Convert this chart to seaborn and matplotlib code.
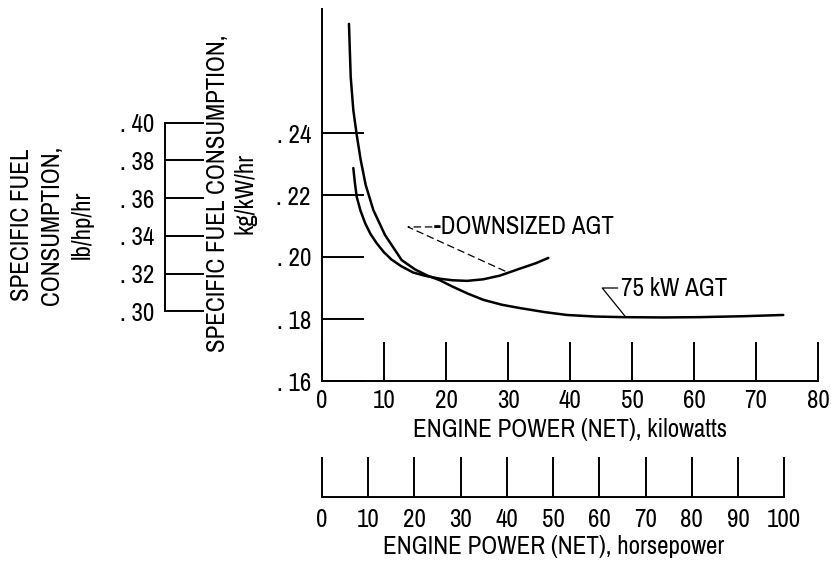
import numpy as np
import pandas as pd
import seaborn as sns
import matplotlib.pyplot as plt

# curve readings: engine power (kW) vs specific fuel consumption (kg/kW/hr)
kw_75 = [4.35, 4.63, 5.05, 5.6, 6.24, 7.05, 8.27, 10.16, 12.85, 15.0, 17.0, 19.0, 21.0,
         23.5, 26.0, 29.0, 32.0, 36.0, 39.5, 44.0, 48.5, 55.0, 61.0, 68.0, 74.4]
sfc_75 = [0.2752, 0.2581, 0.2474, 0.2394, 0.2313, 0.2232, 0.2152, 0.2071, 0.1990, 0.1960, 0.1940, 0.1925, 0.1905,
          0.1882, 0.1862, 0.1846, 0.1835, 0.1822, 0.1813, 0.1808, 0.1806, 0.1805, 0.1806, 0.1809, 0.1813]

kw_down = [5.05, 5.3, 5.6, 6.2, 6.94, 7.8, 8.8, 10.0, 11.2, 12.8, 14.7, 16.5, 19.0, 21.0,
           23.4, 26.0, 28.7, 32.0, 34.5, 36.5]
sfc_down = [0.2287, 0.2240, 0.2194, 0.2150, 0.2110, 0.2075, 0.2045, 0.2015, 0.1992, 0.1970, 0.1950, 0.1940, 0.1930, 0.1925,
            0.1923, 0.1928, 0.1940, 0.1963, 0.1980, 0.1997]

kw_ticks = list(range(0, 81, 10))
hp_ticks = list(range(0, 101, 10))
sfc_ticks = [0.16, 0.18, 0.20, 0.22, 0.24]
lb_ticks = [0.30, 0.32, 0.34, 0.36, 0.38, 0.40]

KW_PER_HP = 0.7457
LBHP_PER_KGKW = 2.2046 * KW_PER_HP   # kg/kW/hr -> lb/hp/hr

sns.set_style('white')
plt.rcParams['font.family'] = ['Archivo Narrow', 'DejaVu Sans']
plt.rcParams['text.color'] = 'black'
plt.rcParams['xtick.color'] = 'black'
plt.rcParams['ytick.color'] = 'black'
plt.rcParams['axes.labelcolor'] = 'black'

FS = 18
LW = 1.4

df = pd.DataFrame({
    'kw': kw_75 + kw_down,
    'sfc': sfc_75 + sfc_down,
    'engine': ['75 kW AGT'] * len(kw_75) + ['DOWNSIZED AGT'] * len(kw_down),
})

W, H = 831, 564
fig = plt.figure(figsize=(W / 100, H / 100), dpi=100)

# main axes (kW / kg/kW/hr)
ax = fig.add_axes([322 / W, 1 - 381 / H, (818 - 322) / W, (381 - 9) / H])
sns.lineplot(data=df, x='kw', y='sfc', hue='engine', palette=['black', 'black'],
             estimator=None, legend=False, lw=1.8, ax=ax)
ax.set_xlim(0, 80)
ax.set_ylim(0.16, 0.28)
sns.despine(ax=ax)
for s in ['left', 'bottom']:
    ax.spines[s].set_linewidth(LW)
    ax.spines[s].set_color('black')
ax.set_xticks(kw_ticks)
ax.set_yticks(sfc_ticks)
ax.set_yticklabels(['. %02d' % round(v * 100) for v in sfc_ticks])
ax.tick_params(axis='x', bottom=True, direction='in', length=28, width=LW, pad=6, labelsize=FS)
ax.tick_params(axis='y', left=True, direction='in', length=30, width=LW, pad=8, labelsize=FS)
ax.set_xlabel('ENGINE POWER (NET), kilowatts', fontsize=FS, labelpad=4)
ylab = ax.set_ylabel('SPECIFIC FUEL CONSUMPTION,\nkg/kW/hr', fontsize=FS)
ylab.set_linespacing(1.2)
ax.yaxis.set_label_coords(256 / W, 1 - 193 / H, transform=fig.transFigure)

# curve labels with leader lines
ax.plot([17.8, 13.87, 29.8], [0.2097, 0.2097, 0.1952], color='black', lw=0.9, ls=(0, (6, 3)))
ax.text(18.0, 0.2097, '-DOWNSIZED AGT', fontsize=FS, va='center', ha='left')
ax.plot([47.7, 45.2, 49.0], [0.190, 0.190, 0.1806], color='black', lw=0.9)
ax.text(48.2, 0.190, '75 kW AGT', fontsize=FS, va='center', ha='left')

# horsepower scale
ax_hp = fig.add_axes([322 / W, 1 - 497 / H, (818 - 322) / W, 0.01])
ax_hp.set_facecolor('none')
ax_hp.set_xlim(0, 80 / KW_PER_HP)
ax_hp.set_yticks([])
for s in ['left', 'top', 'right']:
    ax_hp.spines[s].set_visible(False)
ax_hp.spines['bottom'].set_bounds(0, 100)
ax_hp.spines['bottom'].set_linewidth(LW)
ax_hp.spines['bottom'].set_color('black')
ax_hp.set_xticks(hp_ticks)
ax_hp.tick_params(axis='x', bottom=True, direction='in', length=29, width=LW, pad=8, labelsize=FS)
ax_hp.set_xlabel('ENGINE POWER (NET), horsepower', fontsize=FS, labelpad=3, x=50 / (80 / KW_PER_HP))

# lb/hp/hr scale
ax_lb = fig.add_axes([165 / W, 1 - 381 / H, 0.04, (381 - 9) / H])
ax_lb.set_facecolor('none')
ax_lb.set_ylim(0.16 * LBHP_PER_KGKW, 0.28 * LBHP_PER_KGKW)
ax_lb.set_xticks([])
for s in ['bottom', 'top', 'right']:
    ax_lb.spines[s].set_visible(False)
ax_lb.spines['left'].set_bounds(0.30, 0.40)
ax_lb.spines['left'].set_linewidth(LW)
ax_lb.spines['left'].set_color('black')
ax_lb.set_yticks(lb_ticks)
ax_lb.set_yticklabels(['. %02d' % round(v * 100) for v in lb_ticks])
ax_lb.tick_params(axis='y', left=True, direction='in', length=28, width=LW, pad=8, labelsize=FS)
lblab = ax_lb.set_ylabel('SPECIFIC FUEL\nCONSUMPTION,\nlb/hp/hr', fontsize=FS)
lblab.set_linespacing(1.4)
ax_lb.yaxis.set_label_coords(94 / W, 1 - 225 / H, transform=fig.transFigure)

fig.savefig('out.png', dpi=100)
